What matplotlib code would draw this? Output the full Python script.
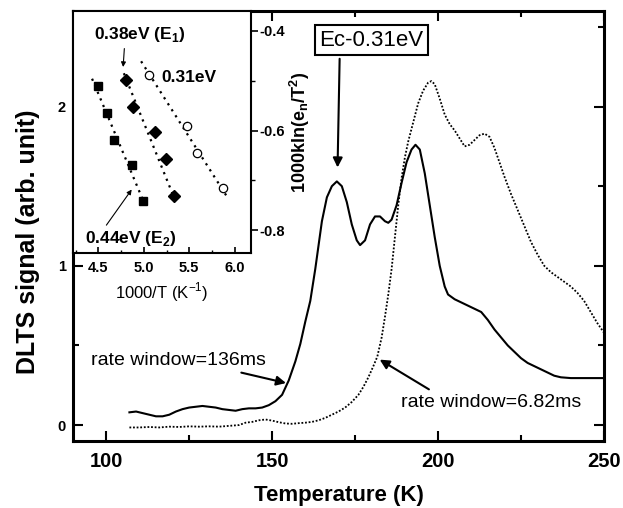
import numpy as np
import matplotlib
matplotlib.use("Agg")
import matplotlib.pyplot as plt
from matplotlib.ticker import MultipleLocator

plt.rcParams["font.family"] = ["Liberation Sans", "DejaVu Sans"]
plt.rcParams["mathtext.fontset"] = "custom"
plt.rcParams["mathtext.rm"] = "Liberation Sans"
plt.rcParams["mathtext.bf"] = "Liberation Sans:bold"

# main DLTS spectra (Temperature in K, signal in arb. unit)
temp_136 = [107, 109, 111, 113, 115, 117, 119, 121, 123, 125, 127, 129, 131, 133, 135,
            137, 139, 141, 143, 145, 147, 149, 151, 153, 155, 157, 158.5, 160, 161.5,
            163, 165, 166.5, 168, 169.5, 171, 172.5, 174, 175.5, 176.5, 178, 179.5,
            181, 182.5, 184, 185, 186, 187.5, 189, 190.5, 192, 193.2, 194.5, 196,
            197.5, 199, 200.5, 202, 203, 205, 207, 209, 211, 213, 215, 217, 219, 221,
            223, 225, 227, 229, 231, 233, 235, 237, 240, 245, 250]
sig_136 = [0.08, 0.085, 0.075, 0.065, 0.055, 0.055, 0.065, 0.085, 0.10, 0.11, 0.115,
           0.12, 0.115, 0.11, 0.10, 0.095, 0.09, 0.10, 0.105, 0.105, 0.11, 0.125, 0.15,
           0.19, 0.28, 0.40, 0.51, 0.65, 0.78, 0.98, 1.28, 1.43, 1.50, 1.53, 1.50, 1.40,
           1.26, 1.16, 1.13, 1.16, 1.26, 1.31, 1.31, 1.28, 1.27, 1.29, 1.38, 1.52, 1.65,
           1.73, 1.76, 1.73, 1.58, 1.38, 1.18, 1.00, 0.87, 0.82, 0.79, 0.77, 0.75, 0.73,
           0.71, 0.66, 0.60, 0.55, 0.50, 0.46, 0.42, 0.39, 0.37, 0.35, 0.33, 0.31, 0.30,
           0.295, 0.295, 0.295]

temp_682 = [107, 110, 113, 116, 119, 122, 125, 128, 131, 134, 137, 140, 142, 144, 146,
            148, 150, 152, 154, 156, 158, 160, 162, 164, 166, 168, 170, 172, 174, 176,
            177.5, 179, 180.5, 181.7, 183, 184, 185, 186, 187, 188, 189, 190, 191,
            192.5, 194, 195.5, 197, 198, 199, 200.5, 202, 203.5, 205, 206.5, 208, 209.5,
            211, 212.5, 214, 215.5, 217, 218.5, 220, 222, 224, 226, 228, 230, 232, 234,
            236, 238, 240, 242, 244, 246, 248, 250]
sig_682 = [-0.015, -0.015, -0.012, -0.015, -0.01, -0.012, -0.008, -0.01, -0.008, -0.01,
           -0.005, 0.0, 0.015, 0.02, 0.03, 0.035, 0.028, 0.018, 0.01, 0.008, 0.012, 0.015,
           0.02, 0.03, 0.045, 0.065, 0.085, 0.11, 0.145, 0.19, 0.24, 0.30, 0.37, 0.43,
           0.55, 0.68, 0.82, 0.98, 1.18, 1.38, 1.55, 1.68, 1.78, 1.90, 2.02, 2.10, 2.15,
           2.16, 2.14, 2.05, 1.95, 1.89, 1.85, 1.80, 1.75, 1.76, 1.79, 1.82, 1.83, 1.81,
           1.74, 1.65, 1.56, 1.45, 1.35, 1.25, 1.15, 1.07, 1.00, 0.96, 0.93, 0.90, 0.87,
           0.83, 0.78, 0.71, 0.64, 0.58]

# Arrhenius inset (1000/T, 1000k ln(e_n/T^2))
e2_x = [4.49, 4.59, 4.67, 4.87, 4.99]
e2_y = [-0.51, -0.564, -0.62, -0.67, -0.742]
e1_x = [4.80, 4.88, 5.12, 5.24, 5.33]
e1_y = [-0.498, -0.553, -0.603, -0.657, -0.731]
e3_x = [5.06, 5.47, 5.59, 5.87]
e3_y = [-0.489, -0.591, -0.646, -0.715]

# fitted line end points
fit_e2_x = [4.43, 5.03]
fit_e2_y = [-0.496, -0.757]
fit_e1_x = [4.78, 5.34]
fit_e1_y = [-0.485, -0.738]
fit_e3_x = [4.97, 5.93]
fit_e3_y = [-0.461, -0.737]

W, H = 623, 508
fig = plt.figure(figsize=(W / 100, H / 100), dpi=100)

ax = fig.add_axes([73 / W, (H - 441) / H, (604 - 73) / W, (441 - 11) / H])
ax.plot(temp_136, sig_136, color="black", linewidth=1.5)
ax.plot(temp_682, sig_682, color="black", linewidth=1.3, linestyle=(0, (1, 1)))

ax.set_xlim(90, 250)
ax.set_ylim(-0.1, 2.6)
ax.xaxis.set_major_locator(MultipleLocator(50))
ax.xaxis.set_minor_locator(MultipleLocator(25))
ax.yaxis.set_major_locator(MultipleLocator(1))
ax.yaxis.set_minor_locator(MultipleLocator(0.5))
ax.tick_params(which="both", direction="in", top=True, right=True, width=1.5)
ax.tick_params(which="major", length=7)
ax.tick_params(which="minor", length=4)
ax.tick_params(axis="x", labelsize=14.5, pad=8)
ax.tick_params(axis="y", labelsize=10.5, pad=5)
for lab in ax.get_xticklabels() + ax.get_yticklabels():
    lab.set_fontweight("bold")
for s in ax.spines.values():
    s.set_linewidth(2.2)

ax.set_xlabel("Temperature (K)", fontsize=16, fontweight="bold", labelpad=10)
ax.set_ylabel("DLTS signal (arb. unit)", fontsize=18, fontweight="bold")
ax.yaxis.set_label_coords(-0.062, 0.463)

# annotations on main spectra
ax.annotate("Ec-0.31eV", xy=(169.7, 1.60), xytext=(179.8, 2.416),
            fontsize=16, ha="center", va="center",
            bbox=dict(boxstyle="square,pad=0.2", fc="white", ec="black", lw=1.5),
            arrowprops=dict(arrowstyle="-|>", color="black", lw=1.5,
                            mutation_scale=14, relpos=(0.2, 0.0)))
ax.annotate("rate window=136ms", xy=(155, 0.26), xytext=(121.8, 0.408),
            fontsize=14, ha="center", va="center",
            arrowprops=dict(arrowstyle="-|>", color="black", lw=1.5,
                            mutation_scale=14, relpos=(0.76, 0.0), shrinkA=4))
ax.annotate("rate window=6.82ms", xy=(181.7, 0.42), xytext=(216, 0.14),
            fontsize=14, ha="center", va="center",
            arrowprops=dict(arrowstyle="-|>", color="black", lw=1.5,
                            mutation_scale=14, relpos=(0.2, 1.0), shrinkA=3))

# inset Arrhenius plot
ins = fig.add_axes([73 / W, (H - 253) / H, (251 - 73) / W, (253 - 11) / H])
ins.set_facecolor("white")
ins.plot(fit_e2_x, fit_e2_y, color="black", lw=1.6, linestyle=(0, (1, 2.2)))
ins.plot(fit_e1_x, fit_e1_y, color="black", lw=1.6, linestyle=(0, (1, 2.2)))
ins.plot(fit_e3_x, fit_e3_y, color="black", lw=1.6, linestyle=(0, (1, 2.2)))
ins.plot(e2_x, e2_y, "s", color="black", markersize=6, linestyle="none")
ins.plot(e1_x, e1_y, "D", color="black", markersize=6.5, linestyle="none")
ins.plot(e3_x, e3_y, "o", mfc="white", mec="black", mew=0.9, markersize=6,
         linestyle="none")

ins.set_xlim(4.22, 6.18)
ins.set_ylim(-0.846, -0.36)
ins.xaxis.set_major_locator(MultipleLocator(0.5))
ins.xaxis.set_minor_locator(MultipleLocator(0.25))
ins.yaxis.set_major_locator(MultipleLocator(0.2))
ins.yaxis.set_minor_locator(MultipleLocator(0.1))
ins.yaxis.tick_right()
ins.yaxis.set_label_position("right")
ins.tick_params(axis="x", which="both", direction="in", top=False, labelsize=10.5, pad=6)
ins.tick_params(axis="x", which="major", length=4, width=1.2)
ins.tick_params(axis="x", which="minor", length=2.5, width=1.0)
ins.tick_params(axis="y", which="both", direction="out", left=False, labelsize=10.5,
                pad=1)
ins.tick_params(axis="y", which="major", length=5, width=1.2)
ins.tick_params(axis="y", which="minor", length=3, width=1.0)
ins.set_xticks([4.5, 5.0, 5.5, 6.0])
ins.set_xticklabels(["4.5", "5.0", "5.5", "6.0"])
ins.set_yticks([-0.4, -0.6, -0.8])
ins.set_yticklabels(["-0.4", "-0.6", "-0.8"])
for lab in ins.get_xticklabels() + ins.get_yticklabels():
    lab.set_fontweight("bold")
for s in ins.spines.values():
    s.set_linewidth(1.5)

ins.set_xlabel("1000/T (K$^{\\mathregular{-1}}$)", fontsize=12, labelpad=4)
ins.set_ylabel("1000kln(e$_{\\mathbf{n}}$/T$^{\\mathbf{2}}$)", fontsize=13,
               fontweight="bold", labelpad=2)

ins.annotate("0.38eV (E$_{\\mathbf{1}}$)", xy=(4.77, -0.478), xytext=(4.96, -0.408),
             fontsize=12.5, fontweight="bold", ha="center", va="center",
             arrowprops=dict(arrowstyle="-|>", color="black", lw=0.8,
                             mutation_scale=7, relpos=(0.33, 0.0), shrinkA=1))
ins.text(5.5, -0.494, "0.31eV", fontsize=12.5, fontweight="bold",
         ha="center", va="center")
ins.annotate("0.44eV (E$_{\\mathbf{2}}$)", xy=(4.884, -0.714), xytext=(4.86, -0.817),
             fontsize=12.5, fontweight="bold", ha="center", va="center",
             arrowprops=dict(arrowstyle="-|>", color="black", lw=0.8,
                             mutation_scale=7, relpos=(0.2, 1.0), shrinkA=1))

fig.savefig("out.png", dpi=100)
